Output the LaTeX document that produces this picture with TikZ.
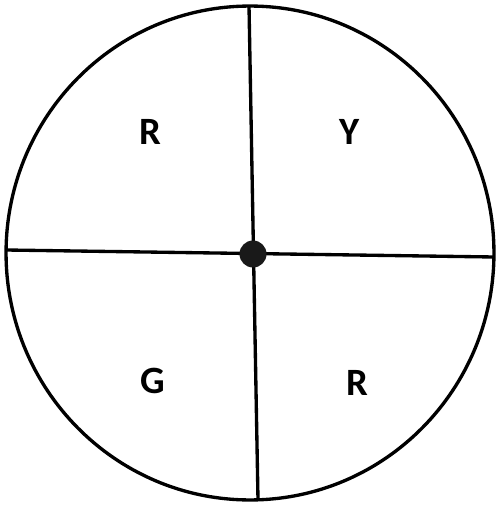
\documentclass[tikz,border=0pt]{standalone}
\usepackage{fontspec}
\setmainfont{Carlito}
\begin{document}
\begin{tikzpicture}[x=0.02cm, y=-0.02cm, line width=1.9pt,
  sector/.style={font=\fontsize{22}{24}\selectfont\bfseries}]
\useasboundingbox (0,0) rectangle (495,506);
\draw (250,253) ellipse [x radius=4.88cm, y radius=4.94cm];
\coordinate (top) at (249,6);
\coordinate (bottom) at (258,500);
\coordinate (left) at (6,250);
\coordinate (right) at (494,257);
\draw (top) -- (bottom);
\draw (left) -- (right);
\node[circle, fill=black!90, inner sep=0pt, minimum size=0.54cm] (hub) at (253,254) {};
\node[sector] (redA) at (150,132) {R};
\node[sector] (yellow) at (350,132) {Y};
\node[sector] (green) at (153,381) {G};
\node[sector] (redB) at (357,383) {R};
\end{tikzpicture}
\end{document}
